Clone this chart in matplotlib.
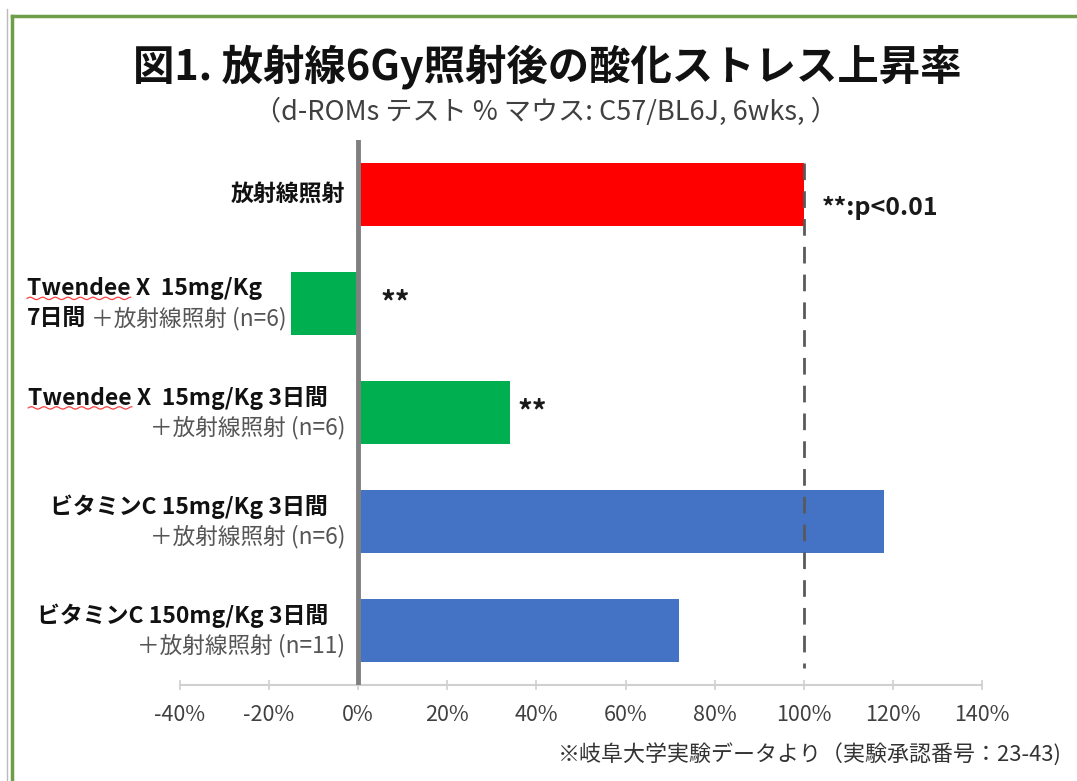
import numpy as np
import matplotlib
matplotlib.use("Agg")
import matplotlib.pyplot as plt
from matplotlib.lines import Line2D
import matplotlib.transforms as mtransforms

plt.rcParams['font.family'] = ['Noto Sans CJK JP', 'DejaVu Sans']

# ---- data ----
line1_labels = ["放射線照射", "Twendee X  15mg/Kg", "Twendee X  15mg/Kg 3日間",
                "ビタミンC 15mg/Kg 3日間", "ビタミンC 150mg/Kg 3日間"]
line2_bold = ["", "7日間", "", "", ""]
line2_grey = ["", "＋放射線照射 (n=6)", "＋放射線照射 (n=6)",
              "＋放射線照射 (n=6)", "＋放射線照射 (n=11)"]
values = [100, -15, 34, 118, 72]
bar_colors = ["#FF0000", "#00B050", "#00B050", "#4472C4", "#4472C4"]
sig_marks = ["", "**", "**", "", ""]
xticks = [-40, -20, 0, 20, 40, 60, 80, 100, 120, 140]
xtick_labels = [f"{t}%" for t in xticks]
title = "図1. 放射線6Gy照射後の酸化ストレス上昇率"
subtitle = "（d-ROMs テスト % マウス: C57/BL6J, 6wks, ）"
pnote = "**:p<0.01"
footnote = "※岐阜大学実験データより（実験承認番号：23-43)"

W, H = 1077, 781
fig = plt.figure(figsize=(W / 100, H / 100), dpi=100)
ax = fig.add_axes([180 / W, 1 - 685 / H, 802 / W, 545 / H])

y = np.arange(len(values))
ax.barh(y, values, height=0.58, color=bar_colors, zorder=2)
ax.set_xlim(-40, 140)
ax.set_ylim(len(values) - 0.5, -0.5)
ax.set_xticks(xticks)
ax.set_xticklabels(xtick_labels, fontsize=15.5, color="#404040")
ax.set_yticks([])
for s in ["top", "right", "left"]:
    ax.spines[s].set_visible(False)
ax.spines["bottom"].set_color("#D0D0D0")
ax.spines["bottom"].set_linewidth(1.5)
ax.tick_params(axis="x", direction="inout", length=7, width=1.2, color="#D0D0D0", pad=10)

# zero line
ax.axvline(0, color="#808080", lw=3.5, zorder=3)
# 100% dashed reference
ax.plot([100, 100], [-0.29, len(values) - 0.66], color="#595959", lw=2,
        dashes=(6, 4), zorder=3)

# significance marks
for i, (v, m) in enumerate(zip(values, sig_marks)):
    if m:
        off = 16 if v < 0 else 6
        ax.annotate(m, xy=(max(v, 0), i), xytext=(off, 0), textcoords="offset points",
                    ha="left", va="center", fontsize=21, fontweight="bold", color="#1a1a1a")
ax.annotate(pnote, xy=(100, 0), xytext=(13, -10), textcoords="offset points",
            ha="left", va="center", fontsize=18, fontweight="bold", color="#1a1a1a")

# category labels
trans = mtransforms.blended_transform_factory(ax.transAxes, ax.transData)
x1 = (328 - 180) / 802
x2 = (345 - 180) / 802
xl = (27 - 180) / 802
dy = 0.134
lab_fs = 16.5
grey_fs = 16.3
label_texts = []
for i in range(len(values)):
    if not line2_grey[i]:
        t = ax.text(x2, i, line1_labels[i], transform=trans, ha="right", va="center",
                    fontsize=lab_fs, fontweight="bold", color="#111111")
        label_texts.append(t)
    elif line2_bold[i]:
        t = ax.text(xl, i - dy, line1_labels[i], transform=trans, ha="left", va="center",
                    fontsize=lab_fs, fontweight="bold", color="#111111")
        label_texts.append(t)
        tb = ax.text(xl, i + dy, line2_bold[i], transform=trans, ha="left", va="center",
                     fontsize=lab_fs, fontweight="bold", color="#111111")
        ax.annotate(" " + line2_grey[i], xy=(1, 0.5), xycoords=tb, ha="left", va="center",
                    fontsize=grey_fs, color="#555555")
    else:
        t = ax.text(x1, i - dy, line1_labels[i], transform=trans, ha="right", va="center",
                    fontsize=lab_fs, fontweight="bold", color="#111111")
        label_texts.append(t)
        ax.text(x2, i + dy, line2_grey[i], transform=trans, ha="right", va="center",
                fontsize=grey_fs, color="#555555")

# titles
fig.text(547 / W, 1 - 67 / H, title, ha="center", va="center", fontsize=29.8,
         fontweight="bold", color="#111111")
fig.text(546 / W, 1 - 112 / H, subtitle, ha="center", va="center", fontsize=19.5,
         color="#404040")
fig.text(1062 / W, 1 - 755 / H, footnote, ha="right", va="center", fontsize=15.8,
         color="#333333")

# frame lines
fig.add_artist(Line2D([7 / W, 7 / W], [1 - 9 / H, 0], color="#BBBBBB", lw=1))
fig.add_artist(Line2D([12 / W, 1], [1 - 16 / H, 1 - 16 / H], color="#6E9E48", lw=2.5))
fig.add_artist(Line2D([12 / W, 12 / W], [1 - 16 / H, 0], color="#6E9E48", lw=2.5))

# spell-check wavy underline below "Twendee"
fig.canvas.draw()
renderer = fig.canvas.get_renderer()
for t in label_texts:
    s = t.get_text()
    if s.startswith("Twendee"):
        bb = t.get_window_extent(renderer)
        tmp = fig.text(0, 0, "Twendee", fontsize=lab_fs, fontweight="bold")
        w = tmp.get_window_extent(renderer).width
        tmp.remove()
        xs = np.linspace(bb.x0, bb.x0 + w, 70)
        ys = bb.y0 + 2.0 + 1.2 * np.sin((xs - bb.x0) / 2.0)
        fig.add_artist(Line2D(xs / W, ys / H, color="#FF4040", lw=0.9))

fig.savefig("out.png", dpi=100)
